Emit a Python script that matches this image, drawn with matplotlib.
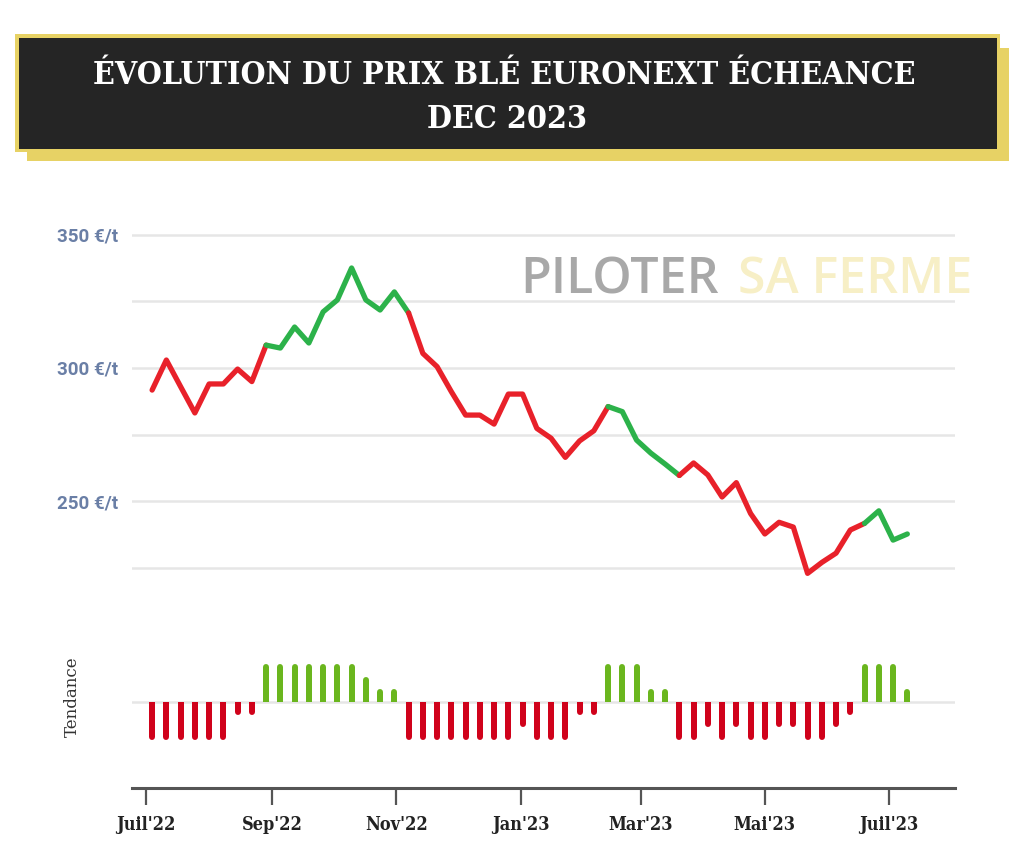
import matplotlib
matplotlib.use('Agg')
import matplotlib.pyplot as plt
import matplotlib.dates as mdates
from matplotlib.patches import Rectangle
import numpy as np
import pandas as pd

# ---------------- data ----------------
dates = pd.date_range('2022-07-04', periods=54, freq='7D')
prices = [291.7, 303.0, 293.0, 283.1, 294.0, 294.0, 299.6, 294.9, 308.6, 307.5,
          315.4, 309.4, 321.1, 325.6, 337.6, 325.6, 321.8, 328.6, 320.7, 305.5,
          300.5, 291.1, 282.3, 282.3, 278.9, 290.2, 290.2, 277.3, 273.6, 266.4,
          272.6, 276.4, 285.5, 283.6, 272.9, 268.0, 263.9, 259.6, 264.3, 259.8,
          251.5, 256.9, 245.3, 237.6, 242.0, 240.2, 222.8, 226.9, 230.4, 239.1,
          241.6, 246.3, 235.3, 237.6]
trend = [-3, -3, -3, -3, -3, -3, -1, -1, 3, 3,
         3, 3, 3, 3, 3, 2, 1, 1, -3, -3,
         -3, -3, -3, -3, -3, -3, -2, -3, -3, -3,
         -1, -1, 3, 3, 3, 1, 1, -3, -3, -2,
         -3, -2, -3, -3, -2, -2, -3, -3, -2, -1,
         3, 3, 3, 1]
tick_dates = pd.to_datetime(['2022-07-01', '2022-09-01', '2022-11-01', '2023-01-01',
                             '2023-03-01', '2023-05-01', '2023-07-01'])
tick_labels = ["Juil'22", "Sep'22", "Nov'22", "Jan'23", "Mar'23", "Mai'23", "Juil'23"]
grid_vals = [225, 250, 275, 300, 325, 350]
ylabel_text = {250: '250 €/t', 300: '300 €/t', 350: '350 €/t'}
title_lines = ["ÉVOLUTION DU PRIX BLÉ EURONEXT ÉCHEANCE", "DEC 2023"]
trend_label = "Tendance"

# ---------------- figure ----------------
W, H = 1024, 859
fig = plt.figure(figsize=(W / 100, H / 100), dpi=100)


def fx(x):
    return x / W


def fy(y):
    return 1 - y / H


YEL = '#e7d265'
DARK = '#252525'
fig.patches.append(Rectangle((fx(27), fy(161)), fx(1009) - fx(27), fy(48) - fy(161),
                             transform=fig.transFigure, facecolor=YEL, edgecolor='none', zorder=0))
fig.patches.append(Rectangle((fx(15), fy(152)), fx(1000) - fx(15), fy(34) - fy(152),
                             transform=fig.transFigure, facecolor=YEL, edgecolor='none', zorder=1))
fig.patches.append(Rectangle((fx(18.5), fy(148.5)), fx(996.5) - fx(18.5), fy(37.5) - fy(148.5),
                             transform=fig.transFigure, facecolor=DARK, edgecolor='none', zorder=2))

title_font = dict(family='DejaVu Serif', fontstretch='condensed', weight='bold', color='white')
fig.text(fx(504), fy(75), title_lines[0], ha='center', va='center', size=23, zorder=5, **title_font)
fig.text(fx(507), fy(120), title_lines[1], ha='center', va='center', size=23, zorder=5, **title_font)

# watermark
fig.text(fx(520), fy(293), 'PILOTER', ha='left', va='baseline', size=36,
         family='Open Sans', weight='semibold', color='#a8a8a8')
fig.text(fx(738), fy(293), 'SA FERME', ha='left', va='baseline', size=36,
         family='Open Sans', weight='semibold', color='#f7efc6')

# ---------------- price axes ----------------
x0 = mdates.date2num(pd.Timestamp('2022-07-01'))
ppd = 743 / 365.0
xlim = (x0 - (146 - 132) / ppd, x0 + (955 - 146) / ppd)

ax1 = fig.add_axes([fx(132), fy(600), fx(955) - fx(132), fy(200) - fy(600)])
ax1.set_facecolor('none')
ax1.set_xlim(*xlim)
ax1.set_ylim(350 - (600 - 235) / 2.66, 350 + (235 - 200) / 2.66)
for s in ax1.spines.values():
    s.set_visible(False)
ax1.set_yticks(grid_vals)
ax1.set_yticklabels([ylabel_text.get(v, '') for v in grid_vals])
ax1.yaxis.grid(True, color='#e6e6e6', lw=1.8)
ax1.set_axisbelow(True)
ax1.tick_params(axis='y', length=0, pad=54, labelsize=13.5, labelcolor='#6a7fa6')
for lab in ax1.get_yticklabels():
    lab.set_ha('left')
    lab.set_fontfamily('Roboto')
    lab.set_fontweight('bold')
ax1.tick_params(axis='x', bottom=False, labelbottom=False)

GREEN_L = '#2cb24a'
RED_L = '#e8212a'
cols = [GREEN_L if t > 0 else RED_L for t in trend]
n = len(prices)
i = 0
while i < n - 1:
    j = i
    while j + 1 < n - 1 and cols[j + 1] == cols[i]:
        j += 1
    ax1.plot(dates[i:j + 2], prices[i:j + 2], color=cols[i], lw=3.8,
             solid_capstyle='round', solid_joinstyle='round', zorder=3)
    i = j + 1

# ---------------- trend axes ----------------
ax2 = fig.add_axes([fx(132), fy(788), fx(955) - fx(132), fy(640) - fy(788)])
ax2.set_facecolor('none')
ax2.set_xlim(*xlim)
px_per_unit = 12.6
ax2.set_ylim(-(788 - 702) / px_per_unit, (702 - 640) / px_per_unit)
for k in ['top', 'left', 'right']:
    ax2.spines[k].set_visible(False)
ax2.spines['bottom'].set_color('#555555')
ax2.spines['bottom'].set_linewidth(2.2)
ax2.set_yticks([0])
ax2.set_yticklabels([])
ax2.tick_params(axis='y', length=0)
ax2.yaxis.grid(True, color='#e6e6e6', lw=1.8)
ax2.set_axisbelow(True)

tr = np.array(trend, dtype=float)
bar_cols = ['#6ab61e' if t > 0 else '#d0021b' for t in trend]
r = 3.0 / px_per_unit            # radius of the rounded end (3 px)
body = tr - np.sign(tr) * r
ax2.bar(dates, body, width=6.0 / ppd, color=bar_cols, zorder=3, linewidth=0)
ax2.vlines(dates, body / 2, body, colors=bar_cols, linewidth=6.0 * 0.72,
           capstyle='round', zorder=3)

ax2.set_xticks(tick_dates)
ax2.set_xticklabels(tick_labels)
ax2.tick_params(axis='x', length=12, width=1.6, color='#555555', pad=8, labelsize=13)
for lab in ax2.get_xticklabels():
    lab.set_fontfamily('DejaVu Serif')
    lab.set_fontstretch('condensed')
    lab.set_fontweight('bold')
    lab.set_color('#222222')

fig.text(fx(72), fy(697), trend_label, rotation=90, ha='center', va='center',
         family='DejaVu Serif', size=12, color='#333333')

fig.savefig('out.png', dpi=100)
